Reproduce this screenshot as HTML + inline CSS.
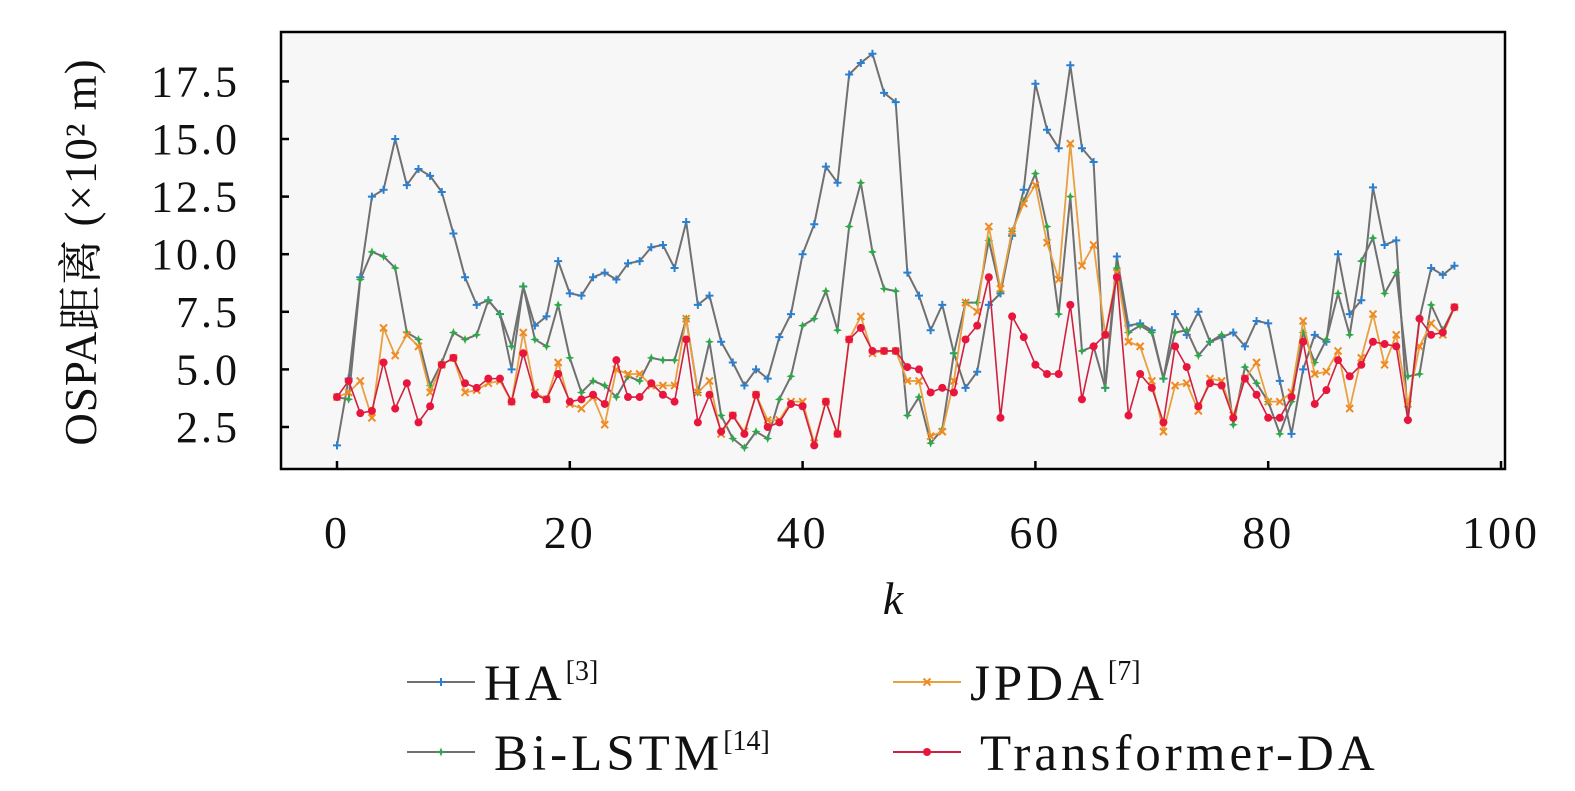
<!DOCTYPE html>
<html><head><meta charset="utf-8">
<style>
html,body{margin:0;padding:0;background:#fff;}
svg{display:block;}
text{font-family:"Liberation Serif","Noto Serif CJK SC",serif;fill:#111;}
</style></head>
<body>
<svg id="s" width="1575" height="791" xmlns="http://www.w3.org/2000/svg">
<rect x="281" y="32" width="1224" height="437" fill="#f7f7f7" stroke="#000" stroke-width="2.5"/>
<g id="ticks"></g>
<g id="plot"></g>
<text transform="translate(96,252) rotate(-90)" text-anchor="middle" font-size="45" letter-spacing="1">OSPA距离 (×10² m)</text>
<text x="893" y="614" text-anchor="middle" font-size="46" font-style="italic">k</text>
<g id="leg"></g>
</svg>
<script>
const X=k=>337+11.64*k, Y=v=>427-(v-2.5)*23.04;
const HA=[1.7,4.6,9.0,12.5,12.8,15.0,13.0,13.7,13.4,12.7,10.9,9.0,7.8,8.0,7.4,5.0,8.6,6.9,7.3,9.7,8.3,8.2,9.0,9.2,8.9,9.6,9.7,10.3,10.4,9.4,11.4,7.8,8.2,6.2,5.3,4.3,5.0,4.6,6.4,7.4,10.0,11.3,13.8,13.1,17.8,18.3,18.7,17.0,16.6,9.2,8.2,6.7,7.8,5.7,4.2,4.9,7.8,8.3,10.8,12.8,17.4,15.4,14.6,18.2,14.6,14.0,4.2,9.9,6.9,7.0,6.7,4.6,7.4,6.5,7.5,6.2,6.4,6.6,6.0,7.1,7.0,4.5,2.2,5.0,6.5,6.2,10.0,7.4,8.0,12.9,10.4,10.6,2.8,7.2,9.4,9.1,9.5];
const BI=[3.8,3.7,8.9,10.1,9.9,9.4,6.6,6.3,4.3,5.3,6.6,6.3,6.5,8.0,7.4,6.0,8.6,6.3,6.0,7.8,5.5,4.0,4.5,4.3,3.8,4.7,4.5,5.5,5.4,5.4,7.2,4.0,6.2,3.0,2.0,1.6,2.3,2.0,3.7,4.7,6.9,7.2,8.4,6.7,11.2,13.1,10.1,8.5,8.4,3.0,3.8,1.8,2.4,5.7,7.9,7.9,10.6,8.4,11.0,12.3,13.5,11.2,7.4,12.5,5.8,6.0,4.2,9.4,6.6,6.9,6.6,4.6,6.6,6.7,5.6,6.2,6.5,2.6,5.1,4.4,3.6,2.2,3.6,6.6,5.3,6.3,8.3,6.5,9.7,10.7,8.3,9.2,4.7,4.8,7.8,6.7,7.7];
const JP=[3.8,4.0,4.5,2.9,6.8,5.6,6.5,6.0,4.0,5.2,5.5,4.0,4.1,4.4,4.5,3.6,6.6,4.0,3.7,5.3,3.5,3.3,3.8,2.6,5.0,4.8,4.8,4.3,4.3,4.3,7.2,4.0,4.5,2.2,3.0,2.3,3.9,2.8,2.8,3.6,3.6,1.8,3.6,2.2,6.3,7.3,5.7,5.8,5.8,4.5,4.5,2.1,2.3,4.5,7.9,7.5,11.2,8.5,11.0,12.2,13.0,10.5,8.9,14.8,9.5,10.4,6.5,9.2,6.2,6.0,4.5,2.3,4.3,4.4,3.2,4.6,4.5,3.0,4.6,5.3,3.6,3.6,4.0,7.1,4.8,4.9,5.8,3.3,5.5,7.4,5.2,6.5,3.5,6.0,7.0,6.5,7.7];
const TR=[3.8,4.5,3.1,3.2,5.3,3.3,4.4,2.7,3.4,5.2,5.5,4.4,4.2,4.6,4.6,3.6,5.7,3.9,3.7,4.8,3.6,3.7,3.9,3.5,5.4,3.8,3.8,4.4,3.9,3.6,6.3,2.7,3.9,2.3,3.0,2.2,3.9,2.5,2.7,3.5,3.4,1.7,3.6,2.2,6.3,6.8,5.8,5.8,5.8,5.1,5.0,4.0,4.2,4.0,6.3,6.9,9.0,2.9,7.3,6.4,5.2,4.8,4.8,7.8,3.7,6.0,6.5,9.0,3.0,4.8,4.2,2.7,6.0,5.1,3.4,4.4,4.3,2.9,4.6,3.9,2.9,2.9,3.8,6.2,3.5,4.1,5.4,4.7,5.2,6.2,6.1,6.0,2.8,7.2,6.5,6.6,7.7];
const NS="http://www.w3.org/2000/svg";
function el(p,t,a){const e=document.createElementNS(NS,t);for(const k in a)e.setAttribute(k,a[k]);p.appendChild(e);return e;}
const T=document.getElementById('ticks');
[0,20,40,60,80,100].forEach(k=>{const x=X(k);el(T,'line',{x1:x,x2:x,y1:469,y2:461,stroke:'#000','stroke-width':2.5});
 const t=el(T,'text',{x:x,y:548,'text-anchor':'middle','font-size':46,'letter-spacing':3});t.textContent=k;});
[2.5,5,7.5,10,12.5,15,17.5].forEach(v=>{const y=Y(v);el(T,'line',{x1:281,x2:289,y1:y,y2:y,stroke:'#000','stroke-width':2.5});
 const t=el(T,'text',{x:240,y:y+15,'text-anchor':'end','font-size':44,'letter-spacing':3});t.textContent=v.toFixed(1);});
const P=document.getElementById('plot');
function marker(g,type,x,y,c){
 if(type==='c')el(g,'circle',{cx:x,cy:y,r:4,fill:c});
 else if(type==='p'){el(g,'path',{d:`M${x-4} ${y}H${x+4}M${x} ${y-4}V${y+4}`,stroke:c,'stroke-width':2});}
 else if(type==='x'){el(g,'path',{d:`M${x-3.5} ${y-3.5}L${x+3.5} ${y+3.5}M${x-3.5} ${y+3.5}L${x+3.5} ${y-3.5}`,stroke:c,'stroke-width':2});}
 else {el(g,'path',{d:`M${x} ${y-4.5}L${x+1.3} ${y-1.3}L${x+4.5} ${y}L${x+1.3} ${y+1.3}L${x} ${y+4.5}L${x-1.3} ${y+1.3}L${x-4.5} ${y}L${x-1.3} ${y-1.3}Z`,fill:c});}
}
function series(d,lc,mt,mc,w){const g=el(P,'g',{});
 el(g,'polyline',{points:d.map((v,k)=>X(k)+','+Y(v)).join(' '),fill:'none',stroke:lc,'stroke-width':w,'stroke-linejoin':'round'});
 d.forEach((v,k)=>marker(g,mt,X(k),Y(v),mc));}
series(HA,'#707070','p','#2a7fd0',2);
series(BI,'#707070','s','#2fa84a',2);
series(JP,'#e8a040','x','#f08a20',1.8);
series(TR,'#d02040','c','#e8163c',1.6);
const L=document.getElementById('leg');
const items=[[407,682,484,'HA','[3]','#707070','p','#2a7fd0'],[893,682,970,'JPDA','[7]','#e8a040','x','#f08a20'],[407,752,494,'Bi-LSTM','[14]','#707070','s','#2fa84a'],[893,752,980,'Transformer-DA','','#d02040','c','#e8163c']];
items.forEach(([x,y,tx,n,s,lc,mt,mc])=>{el(L,'line',{x1:x,x2:x+68,y1:y,y2:y,stroke:lc,'stroke-width':2});marker(L,mt,x+34,y,mc);
 const t=el(L,'text',{x:tx,y:y+18,'font-size':51,'letter-spacing':4});t.textContent=n;
 if(s){const u=el(t,'tspan',{'font-size':28,dy:-20,'letter-spacing':0});u.textContent=s;}});
</script>
</body></html>
